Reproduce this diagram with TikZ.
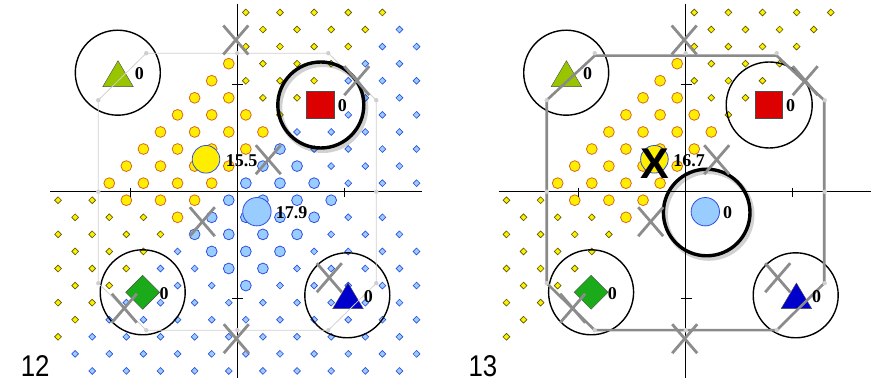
\documentclass[tikz,border=0pt]{standalone}
\usepackage{fontspec}
\usepackage{graphicx}
\setmainfont{Liberation Serif}
\newfontfamily\panelfont{Liberation Sans}
\definecolor{dotyellow}{HTML}{FFEE00}
\definecolor{dotolive}{HTML}{5A5A00}
\definecolor{dotorange}{HTML}{D2691E}
\definecolor{dotblue}{HTML}{99CCFF}
\definecolor{dotblueline}{HTML}{2F4FDD}
\definecolor{crossgray}{HTML}{8C8C8C}
\definecolor{octlight}{HTML}{CFCFCF}
\definecolor{octdark}{HTML}{8A8A8A}
\definecolor{protogreen}{HTML}{99C400}
\definecolor{protored}{HTML}{DD0000}
\definecolor{protodiamond}{HTML}{1AAA1A}
\definecolor{protoblue}{HTML}{0000CC}
\begin{document}
\begin{tikzpicture}[x=1pt,y=1pt,
    axis/.style={black,line width=0.7pt},
    ydot/.style={fill=dotyellow,draw=dotolive,line width=0.65pt},
    bdot/.style={fill=dotblue,draw=dotblueline,line width=0.65pt},
    ybig/.style={fill=dotyellow,draw=dotorange,line width=0.8pt},
    bbig/.style={fill=dotblue,draw=dotblueline,line width=0.8pt},
    cross/.style={draw=crossgray,line width=2.8pt},
    ring/.style={draw=black,line width=1.4pt},
    boldring/.style={draw=black,line width=3.4pt},
    shadowring/.style={draw=black,opacity=0.18,line width=5pt},
    score/.style={font=\fontsize{18}{18}\selectfont\bfseries,inner sep=0pt},
    panelnum/.style={font=\panelfont\fontsize{30}{30}\selectfont,inner sep=0pt,anchor=base west}]
    \useasboundingbox (0,0) rectangle (878,388);

    % small dots on the lattice
    \foreach \ox/\withblue in {237.3/1, 685.7/0} {
        \begin{scope}[shift={(\ox,196.3)},x=17.07pt,y=17.07pt]
            \foreach \j in {-11,...,10} {
                \foreach \k in {-11,...,10} {
                    \pgfmathtruncatemacro\show{(mod(abs((\k)-(\j)),2)==0) && !((\k<0) && (\j>-1) && ((\k)-(\j)<-9)) && !((\k==\j) && (abs(\k+0.5)>10)) && !((\j==-1) && (\k>6)) && !((\j==-2) && (\k==10))}
                    \pgfmathtruncatemacro\isyellow{((\k)-(\j))<-1}
                    \ifnum\show=1
                        \ifnum\isyellow=1
                            \filldraw[ydot] (\k+0.5,\j+0.5) +(3.4pt,0pt) -- +(0pt,3.4pt) -- +(-3.4pt,0pt) -- +(0pt,-3.4pt) -- cycle;
                        \else\ifnum\withblue=1
                            \filldraw[bdot] (\k+0.5,\j+0.5) +(3.4pt,0pt) -- +(0pt,3.4pt) -- +(-3.4pt,0pt) -- +(0pt,-3.4pt) -- cycle;
                        \fi\fi
                    \fi
                }
            }
            % large yellow dots
            \foreach \a/\b in {-0.5/7.5, -1.5/6.5, -2.5/5.5, -0.5/5.5, -3.5/4.5, -1.5/4.5, 0.5/4.5,
                -4.5/3.5, -2.5/3.5, -0.5/3.5, 1.5/3.5, -5.5/2.5, -3.5/2.5, -1.5/2.5, 0.5/2.5,
                -6.5/1.5, -4.5/1.5, -2.5/1.5, -0.5/1.5, -7.5/0.5, -5.5/0.5, -3.5/0.5, -1.5/0.5,
                -6.5/-0.5, -4.5/-0.5, -2.5/-0.5, -3.5/-1.5} {
                \filldraw[ybig] (\a,\b) circle (5.4pt);
            }
        \end{scope}
    }

    % large blue dots, panel 12 only
    \begin{scope}[shift={(237.3,196.3)},x=17.07pt,y=17.07pt]
        \foreach \a/\b in {0.5/0.5, 2.5/0.5, 4.5/0.5, 1.5/1.5, 3.5/1.5, 2.5/2.5,
            -0.5/-0.5, 1.5/-0.5, 3.5/-0.5, 5.5/-0.5, -1.5/-1.5, 0.5/-1.5, 2.5/-1.5, 4.5/-1.5,
            -2.5/-2.5, -0.5/-2.5, 1.5/-2.5, 3.5/-2.5, -1.5/-3.5, 0.5/-3.5, 2.5/-3.5,
            -0.5/-4.5, 1.5/-4.5, 0.5/-5.5} {
            \filldraw[bbig] (\a,\b) circle (5.4pt);
        }
    \end{scope}

    % axes, rings and prototypes
    \foreach \ox/\p in {237.3/12, 685.7/13} {
        \begin{scope}[shift={(\ox,196.3)}]
            \draw[axis] (-187,0) -- (185,0);
            \draw[axis] (0,188) -- (0,-186);
            \foreach \t in {-107,107} {
                \draw[axis] (\t,4) -- (\t,-5);
                \draw[axis] (-5,\t) -- (6,\t);
            }

            \draw[ring] (-119.5,119) circle (42.5);
            \draw[ring] (-94.6,-100.6) circle (42.5);
            \draw[ring] (110,-103.6) circle (42.5);

            \filldraw[fill=dotyellow,draw=dotblueline,line width=0.8pt] (-31.3,32.4) circle (13.8);
            \filldraw[fill=dotblue,draw=dotblueline,line width=0.8pt] (19.6,-20) circle (14.2);

            \filldraw[fill=protogreen,draw=black!70] (-134.6,105) -- (-104,105) -- (-119.3,131) -- cycle;
            \filldraw[fill=protored,draw=black!70] (69.3,73) rectangle (96.7,100.4);
            \filldraw[fill=protodiamond,draw=black!70] (-94.6,-83.6) -- (-77.6,-100.6) -- (-94.6,-117.6) -- (-111.6,-100.6) -- cycle;
            \filldraw[fill=protoblue,draw=black!70] (95.4,-117) -- (126,-117) -- (110.7,-91.3) -- cycle;
        \end{scope}
    }

    % panel 12: light frame, bold ring round the square
    \begin{scope}[shift={(237.3,196.3)}]
        \draw[octlight,line width=0.8pt] (-91,138.5) -- (91,138.5) -- (139,91.5) -- (139,-91.5)
            -- (91,-138.5) -- (-91,-138.5) -- (-139,-91.5) -- (-139,91.5) -- cycle;
        \draw[shadowring] (85.5,84.2) circle (43);
        \draw[boldring] (83.5,86.7) circle (43);
    \end{scope}

    % panel 13: grey frame, bold ring round the blue prototype
    \begin{scope}[shift={(685.7,196.3)}]
        \draw[ring] (83.5,86.7) circle (43);
        \draw[shadowring] (23,-23.3) circle (43.3);
        \draw[boldring] (21,-20.8) circle (43.3);
        \draw[octdark,line width=2.6pt] (-91,136) -- (91,136) -- (138.5,91.5) -- (138.5,-91.5)
            -- (91,-138.5) -- (-91,-138.5) -- (-139,-91.5) -- (-139,91.5) -- cycle;
    \end{scope}

    % crosses and frame corners
    \foreach \ox/\p in {237.3/12, 685.7/13} {
        \begin{scope}[shift={(\ox,196.3)}]
            \foreach \x/\y in {-91/138.5, 91/138.5, 139/91.5, 139/-91.5, 91/-138.5, -91/-138.5,
                -139/-91.5, -139/91.5, 0/138.5, 0/-138.5, 139/0, -139/0} {
                \fill[octlight] (\x,\y) circle (2.2);
            }
            \foreach \x/\y in {-1.5/151.7, 31/32, -35/-30, 119.5/111, 92/-86, -113/-116.5, -1/-147} {
                \draw[cross] (\x-12.5,\y-14.5) -- (\x+12.5,\y+14.5);
                \draw[cross] (\x-12.5,\y+14.5) -- (\x+12.5,\y-14.5);
            }
            \node[score] (tri\p) at (-98,118.4) {0};
            \node[score] (sq\p) at (105,85.7) {0};
            \node[score] (dia\p) at (-73.3,-102.3) {0};
            \node[score] (blt\p) at (131,-104.6) {0};
        \end{scope}
    }

    \begin{scope}[shift={(237.3,196.3)}]
        \node[score] (yel12) at (4.4,30.9) {15.5};
        \node[score] (blu12) at (54.4,-20.8) {17.9};
    \end{scope}
    \begin{scope}[shift={(685.7,196.3)}]
        \node[score] (yel13) at (3.5,30.9) {16.7};
        \node[score] (blu13) at (42,-21.3) {0};
        \node[font=\panelfont\fontsize{43}{43}\selectfont\bfseries,inner sep=0pt] (gone13) at (-30.7,27.5) {X};
    \end{scope}

    \node[panelnum] (num12) at (20.7,11.3) {\scalebox{0.86}[1]{12}};
    \node[panelnum] (num13) at (468.3,11.3) {\scalebox{0.86}[1]{13}};
\end{tikzpicture}
\end{document}
